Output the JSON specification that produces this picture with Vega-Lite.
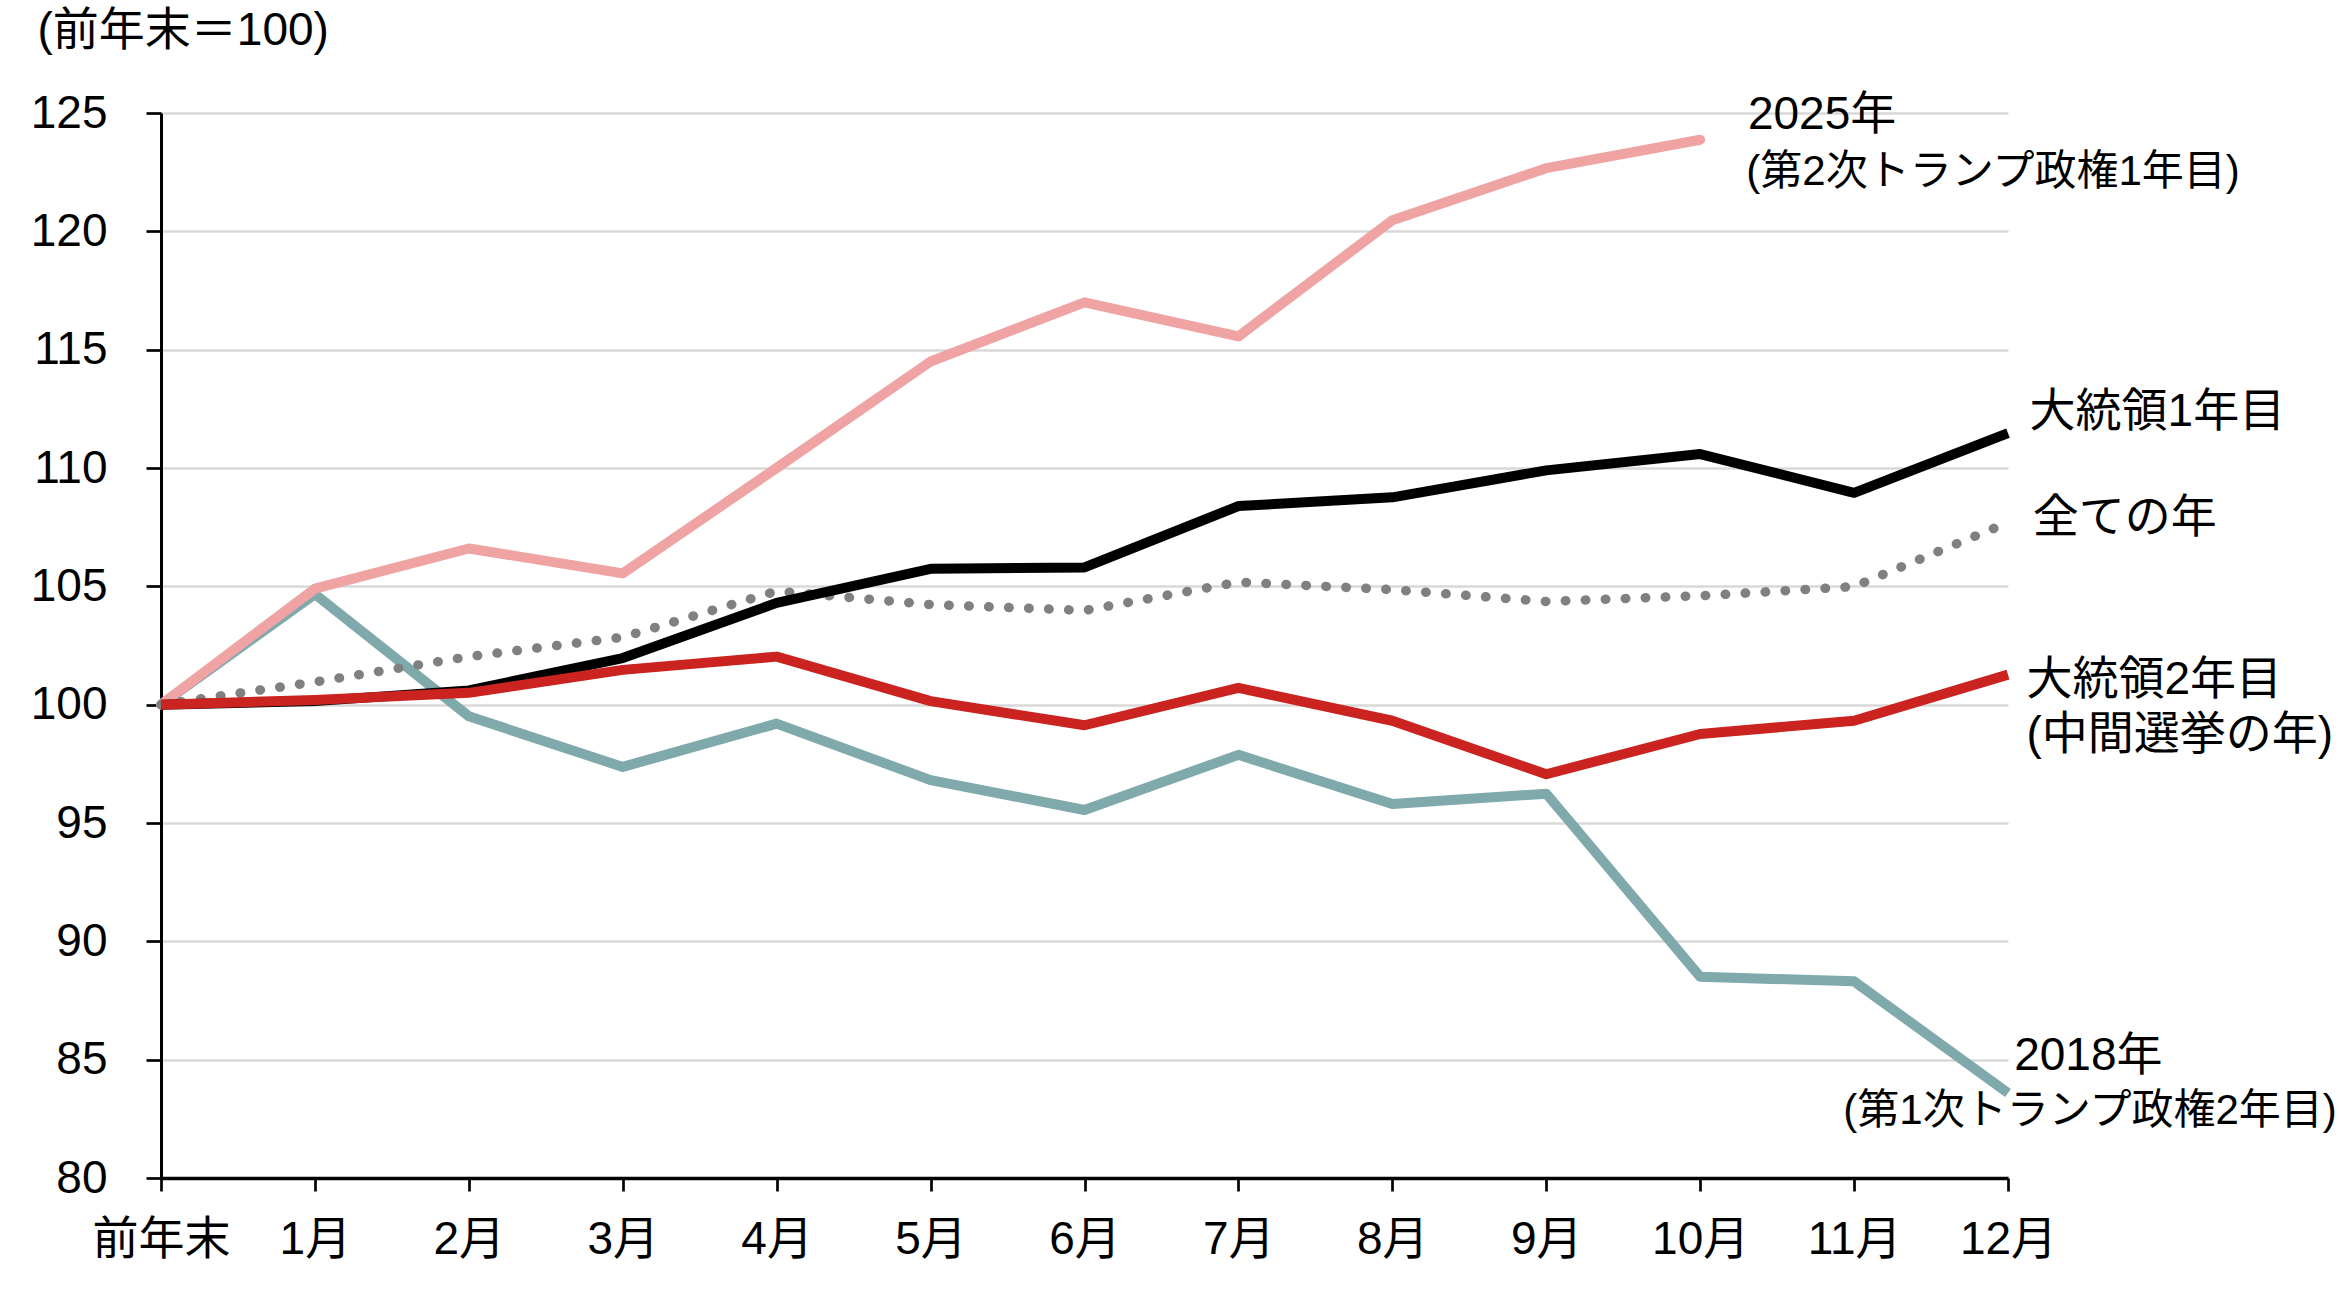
{
  "$schema": "https://vega.github.io/schema/vega-lite/v6.json",
  "width": 1847,
  "height": 1065,
  "autosize": "none",
  "padding": {"left": 161, "top": 113, "right": 331, "bottom": 122},
  "background": "white",
  "config": {
    "view": {"stroke": null},
    "font": "Liberation Sans, Noto Sans CJK JP",
    "axis": {"labelFont": "Liberation Sans, Noto Sans CJK JP", "titleFont": "Liberation Sans, Noto Sans CJK JP", "labelColor": "#000000", "titleColor": "#000000"}
  },
  "datasets": {
    "lines": [
      {"s": "2018", "m": 0, "v": 100}, {"s": "2018", "m": 1, "v": 104.67}, {"s": "2018", "m": 2, "v": 99.51}, {"s": "2018", "m": 3, "v": 97.37}, {"s": "2018", "m": 4, "v": 99.2}, {"s": "2018", "m": 5, "v": 96.81}, {"s": "2018", "m": 6, "v": 95.55}, {"s": "2018", "m": 7, "v": 97.88}, {"s": "2018", "m": 8, "v": 95.8}, {"s": "2018", "m": 9, "v": 96.24}, {"s": "2018", "m": 10, "v": 88.5}, {"s": "2018", "m": 11, "v": 88.31}, {"s": "2018", "m": 12, "v": 83.59},
      {"s": "2025", "m": 0, "v": 100}, {"s": "2025", "m": 1, "v": 104.9}, {"s": "2025", "m": 2, "v": 106.6}, {"s": "2025", "m": 3, "v": 105.55}, {"s": "2025", "m": 4, "v": 110.0}, {"s": "2025", "m": 5, "v": 114.5}, {"s": "2025", "m": 6, "v": 117.0}, {"s": "2025", "m": 7, "v": 115.56}, {"s": "2025", "m": 8, "v": 120.47}, {"s": "2025", "m": 9, "v": 122.67}, {"s": "2025", "m": 10, "v": 123.87},
      {"s": "all", "m": 0, "v": 100}, {"s": "all", "m": 1, "v": 100.96}, {"s": "all", "m": 2, "v": 102.03}, {"s": "all", "m": 3, "v": 102.85}, {"s": "all", "m": 4, "v": 104.8}, {"s": "all", "m": 5, "v": 104.23}, {"s": "all", "m": 6, "v": 103.98}, {"s": "all", "m": 7, "v": 105.18}, {"s": "all", "m": 8, "v": 104.86}, {"s": "all", "m": 9, "v": 104.36}, {"s": "all", "m": 10, "v": 104.6}, {"s": "all", "m": 11, "v": 104.99}, {"s": "all", "m": 12, "v": 107.7},
      {"s": "y1", "m": 0, "v": 100}, {"s": "y1", "m": 1, "v": 100.15}, {"s": "y1", "m": 2, "v": 100.6}, {"s": "y1", "m": 3, "v": 101.97}, {"s": "y1", "m": 4, "v": 104.3}, {"s": "y1", "m": 5, "v": 105.74}, {"s": "y1", "m": 6, "v": 105.8}, {"s": "y1", "m": 7, "v": 108.39}, {"s": "y1", "m": 8, "v": 108.76}, {"s": "y1", "m": 9, "v": 109.9}, {"s": "y1", "m": 10, "v": 110.59}, {"s": "y1", "m": 11, "v": 108.95}, {"s": "y1", "m": 12, "v": 111.47},
      {"s": "y2", "m": 0, "v": 100}, {"s": "y2", "m": 1, "v": 100.2}, {"s": "y2", "m": 2, "v": 100.5}, {"s": "y2", "m": 3, "v": 101.47}, {"s": "y2", "m": 4, "v": 102.03}, {"s": "y2", "m": 5, "v": 100.15}, {"s": "y2", "m": 6, "v": 99.13}, {"s": "y2", "m": 7, "v": 100.71}, {"s": "y2", "m": 8, "v": 99.32}, {"s": "y2", "m": 9, "v": 97.06}, {"s": "y2", "m": 10, "v": 98.76}, {"s": "y2", "m": 11, "v": 99.32}, {"s": "y2", "m": 12, "v": 101.27}
    ],
    "labels": [
      {"s": "2025", "line": 1, "m": 10.31, "v": 124.9, "t": "2025年"},
      {"s": "2025", "line": 2, "m": 10.3, "v": 122.5, "t": "(第2次トランプ政権1年目)"},
      {"s": "y1", "line": 1, "m": 12.14, "v": 112.37, "t": "大統領1年目"},
      {"s": "all", "line": 1, "m": 12.16, "v": 107.89, "t": "全ての年"},
      {"s": "y2", "line": 1, "m": 12.12, "v": 101.05, "t": "大統領2年目"},
      {"s": "y2", "line": 2, "m": 12.12, "v": 98.72, "t": "(中間選挙の年)"},
      {"s": "2018", "line": 1, "m": 12.04, "v": 85.16, "t": "2018年"},
      {"s": "2018", "line": 2, "m": 10.93, "v": 82.84, "t": "(第1次トランプ政権2年目)"}
    ]
  },
  "encoding": {
    "x": {
      "field": "m", "type": "quantitative",
      "scale": {"domain": [0, 12], "nice": false, "zero": false},
      "axis": {
        "title": null, "values": [0,1,2,3,4,5,6,7,8,9,10,11,12],
        "labelExpr": "['前年末','1月','2月','3月','4月','5月','6月','7月','8月','9月','10月','11月','12月'][datum.value]",
        "labelFontSize": 46, "labelPadding": 26, "labelFlush": false, "labelOverlap": false,
        "tickSize": 13, "tickWidth": 2.7, "tickColor": "#000000",
        "domainColor": "#000000", "domainWidth": 3.5, "grid": false
      }
    },
    "y": {
      "field": "v", "type": "quantitative",
      "scale": {"domain": [80, 125], "nice": false, "zero": false},
      "axis": {
        "title": "(前年末＝100)", "titleAngle": 0, "titleAlign": "left", "titleBaseline": "middle",
        "titleX": -124, "titleY": -83, "titleFontSize": 46, "titleFontWeight": "normal",
        "values": [80,85,90,95,100,105,110,115,120,125],
        "labelFontSize": 46, "labelPadding": 39, "labelFlush": false, "labelOverlap": false,
        "tickSize": 15, "tickWidth": 2.7, "tickColor": "#000000",
        "domainColor": "#000000", "domainWidth": 3,
        "grid": true, "gridColor": "#D9D9D9", "gridWidth": 2.7
      }
    }
  },
  "layer": [
    {"data": {"name": "lines"}, "transform": [{"filter": "datum.s == '2018'"}], "mark": {"type": "line", "color": "#7FA9AB", "strokeWidth": 10, "strokeCap": "butt", "strokeJoin": "round"}},
    {"data": {"name": "lines"}, "transform": [{"filter": "datum.s == '2025'"}], "mark": {"type": "line", "color": "#F0A3A3", "strokeWidth": 10, "strokeCap": "round", "strokeJoin": "round"}},
    {"data": {"name": "lines"}, "transform": [{"filter": "datum.s == 'all'"}], "mark": {"type": "line", "color": "#808080", "strokeWidth": 9.5, "strokeCap": "round", "strokeJoin": "round", "strokeDash": [0.5, 19.5]}},
    {"data": {"name": "lines"}, "transform": [{"filter": "datum.s == 'y1'"}], "mark": {"type": "line", "color": "#000000", "strokeWidth": 10, "strokeCap": "butt", "strokeJoin": "round"}},
    {"data": {"name": "lines"}, "transform": [{"filter": "datum.s == 'y2'"}], "mark": {"type": "line", "color": "#CB2320", "strokeWidth": 10, "strokeCap": "butt", "strokeJoin": "round"}},
    {"data": {"name": "labels"}, "transform": [{"filter": "!(datum.line == 2 && (datum.s == '2025' || datum.s == '2018'))"}], "mark": {"type": "text", "align": "left", "baseline": "middle", "fontSize": 46, "color": "#000000"}, "encoding": {"text": {"field": "t"}}},
    {"data": {"name": "labels"}, "transform": [{"filter": "datum.line == 2 && (datum.s == '2025' || datum.s == '2018')"}], "mark": {"type": "text", "align": "left", "baseline": "middle", "fontSize": 42, "color": "#000000"}, "encoding": {"text": {"field": "t"}}}
  ]
}
